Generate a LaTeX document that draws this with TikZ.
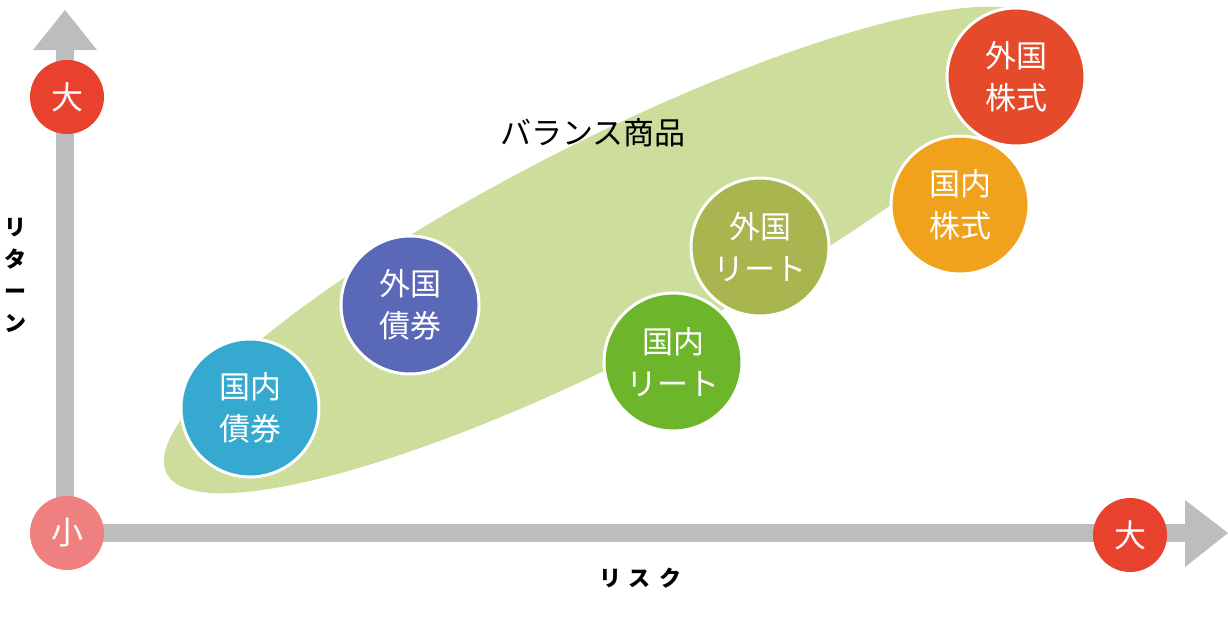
\documentclass[tikz,border=0pt]{standalone}
\usepackage{fontspec}
\setmainfont{Noto Sans CJK JP}
\begin{document}
\begin{tikzpicture}[x=1pt,y=-1pt,
  axis/.style={line width=18pt,draw=axgray},
  endc/.style={circle,fill=#1,minimum size=74pt,inner sep=0pt,text=white,font=\fontsize{32}{34}\selectfont},
  asset/.style={circle,fill=#1,draw=white,line width=3pt,minimum size=138pt,inner sep=0pt,text=white,align=center,font=\fontsize{31}{42}\selectfont}]
\definecolor{axgray}{HTML}{BDBDBD}
\definecolor{bigred}{HTML}{E8412E}
\definecolor{smallpink}{HTML}{F08080}
\definecolor{ellg}{HTML}{CCDD9C}
\definecolor{cA}{HTML}{35A9CF}
\definecolor{cB}{HTML}{5A68B8}
\definecolor{cC}{HTML}{6DB52A}
\definecolor{cD}{HTML}{A9B54E}
\definecolor{cE}{HTML}{F0A21C}
\definecolor{cF}{HTML}{E54A2A}
\useasboundingbox (0,0) rectangle (1228,621);
\fill[ellg,rotate around={27:(605,250)}] (605,250) ellipse [x radius=492, y radius=108];
\draw[axis] (65,533) -- (65,48);
\fill[axgray] (33,50) -- (65,10) -- (97,50) -- cycle;
\draw[axis] (65,533) -- (1187,533);
\fill[axgray] (1185,500) -- (1228,533) -- (1185,567) -- cycle;
\node[endc=bigred] (ybig) at (67,97) {大};
\node[endc=smallpink] (orig) at (67,533) {小};
\node[endc=bigred] (xbig) at (1130,535) {大};
\node[font=\fontsize{31}{32}\selectfont] (bal) at (593,133) {バランス商品};
\node[font=\bfseries\fontsize{22}{32}\selectfont,align=center] (ylab) at (16,275) {リ\\タ\\ー\\ン};
\node[font=\bfseries\fontsize{22}{26}\selectfont] (xlab) at (640,578) {リ\hspace{8pt}ス\hspace{8pt}ク};
\node[asset=cA] (a1) at (250,408) {国内\\債券};
\node[asset=cB] (a2) at (410,305) {外国\\債券};
\node[asset=cC] (a3) at (673,362) {国内\\リート};
\node[asset=cD] (a4) at (760,247) {外国\\リート};
\node[asset=cE] (a5) at (960,205) {国内\\株式};
\node[asset=cF] (a6) at (1016,77) {外国\\株式};
\end{tikzpicture}
\end{document}
